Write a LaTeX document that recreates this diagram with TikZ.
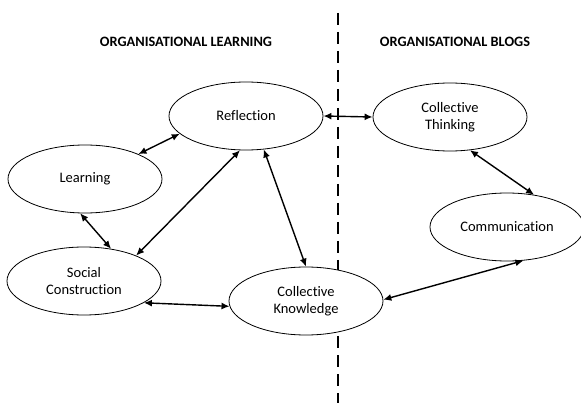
\documentclass[tikz,border=0pt]{standalone}
\usepackage{fontspec}
\setmainfont{Carlito}[Ligatures=CommonOff]
\usetikzlibrary{shapes.geometric,arrows.meta}
\begin{document}
\begin{tikzpicture}[x=1pt,y=-1pt,
  bubble/.style={ellipse,draw=black,line width=0.8pt,fill=white,inner sep=0pt,
    minimum width=154pt,minimum height=68pt,align=center,
    font=\fontsize{14.5}{17.5}\selectfont},
  heading/.style={font=\fontsize{14.3}{17}\selectfont\bfseries},
  link/.style={{Latex[length=8pt,width=7pt]}-{Latex[length=8pt,width=7pt]},line width=1.4pt},
  divider/.style={line width=1.6pt,dash pattern=on 12pt off 7pt}]
\useasboundingbox (0,0) rectangle (581,403);
\coordinate (dtop) at (338,13);
\coordinate (dbot) at (338,403);
\draw[divider] (dtop) -- (dbot);
\node[heading] (h1) at (186,42) {ORGANISATIONAL LEARNING};
\node[heading] (h2) at (455,42) {ORGANISATIONAL BLOGS};
\node[bubble] (R) at (246,116) {Reflection};
\node[bubble] (L) at (85,179) {Learning};
\node[bubble] (S) at (84,281) {Social\\Construction};
\node[bubble] (CK) at (306,301) {Collective\\Knowledge};
\node[bubble] (CT) at (450,117) {Collective\\Thinking};
\node[bubble] (CM) at (507,227) {Communication};
\draw[link] (L.25) -- (R.195);
\draw[link] (L.262) -- (S.50);
\draw[link] (R.260) -- (S.26);
\draw[link] (R.298) -- (CK.90);
\draw[link] (S.340) -- (CK.184);
\draw[link] (R.east) -- (CT.west);
\draw[link] (CT.301) -- (CM.50);
\draw[link] (CM.296) -- (CK.1.5);
\end{tikzpicture}
\end{document}
